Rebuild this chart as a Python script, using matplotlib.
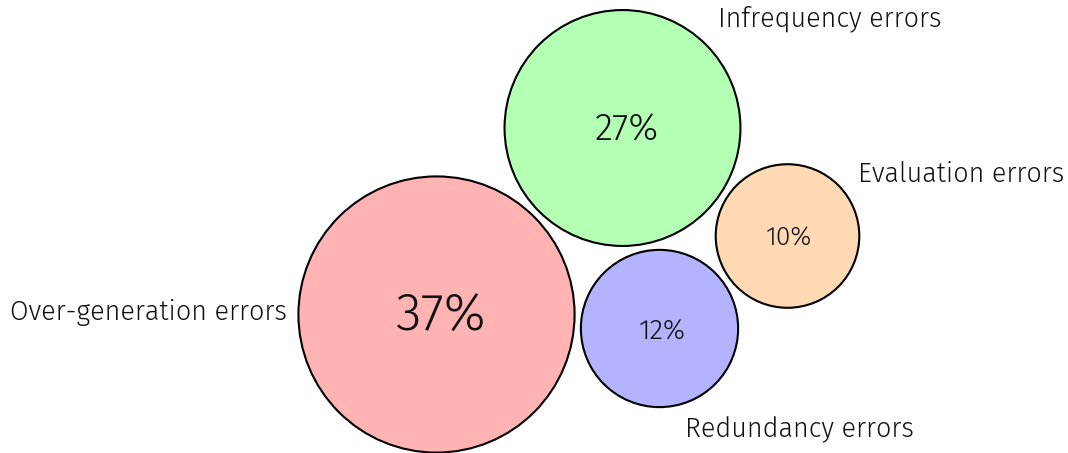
import matplotlib
matplotlib.use("Agg")
import matplotlib.pyplot as plt
from matplotlib.patches import Circle
import numpy as np

# data
categories = ["Over-generation errors", "Infrequency errors", "Redundancy errors", "Evaluation errors"]
shares = [37, 27, 12, 10]

# layout (pixel coordinates, y downward)
cx = [436.5, 622.5, 659.5, 787.5]
cy = [314.5, 128.0, 328.5, 236.0]
scale = 22.7  # radius = scale * sqrt(share)
pct_sizes = [38, 27, 20, 19]
pct_dx = [5, 4, 3, 2]
label_x = [287, 718, 685, 858]
label_y = [313, 19, 430, 174]
label_ha = ["right", "left", "left", "left"]
colors = ["#ffb3b3", "#b3ffb3", "#b3b3ff", "#ffd9b3"]

W, H = 1068, 453
fig = plt.figure(figsize=(W / 100, H / 100), dpi=100)
ax = fig.add_axes([0, 0, 1, 1])
ax.set_xlim(0, W)
ax.set_ylim(H, 0)
ax.axis("off")

font = ["Fira Sans", "DejaVu Sans"]

for cat, v, x, y, ps, dx, lx, ly, ha, c in zip(categories, shares, cx, cy, pct_sizes, pct_dx,
                                                label_x, label_y, label_ha, colors):
    r = scale * np.sqrt(v)
    ax.add_patch(Circle((x, y), r, facecolor=c, edgecolor="black", linewidth=1.5))
    ax.text(x + dx, y + 2, f"{v}%", ha="center", va="center", fontsize=ps,
            family=font, weight=300, color="#111111")
    ax.text(lx, ly, cat, ha=ha, va="center", fontsize=19.4,
            family=font, weight=300, color="#111111")

fig.savefig("out.png", dpi=100)
